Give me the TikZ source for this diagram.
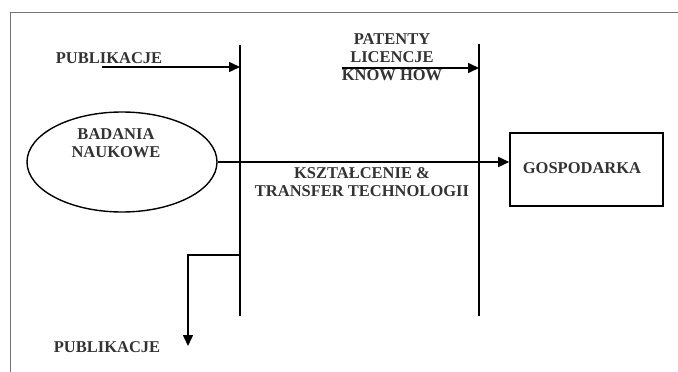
\documentclass[tikz,border=0pt]{standalone}
\usepackage{fontspec}
\setmainfont{Liberation Serif}
\usetikzlibrary{arrows.meta,shapes.geometric}
\begin{document}
\begin{tikzpicture}[x=1pt,y=-1pt,
  lbl/.style={font=\fontsize{16.5}{18}\selectfont\bfseries, text=black!80, inner sep=0pt, align=center},
  bar/.style={line width=2pt},
  conn/.style={line width=1.6pt,-{Triangle[length=11pt,width=10pt]}},
  frame/.style={draw=black!55, line width=1pt}]
\useasboundingbox (0,0) rectangle (678,372);
\draw[frame] (10,372) -- (10,12) -- (678,12);
% vertical bars
\coordinate (v1t) at (240,45); \coordinate (v1b) at (240,316);
\coordinate (v2t) at (479,44); \coordinate (v2b) at (479,316);
\draw[bar] (v1t) -- (v1b);
\draw[bar] (v2t) -- (v2b);
% ellipse and box
\node[draw, ellipse, line width=1.4pt, minimum width=190pt, minimum height=100pt] (bad) at (122,162) {};
\node[lbl] (badtxt) at (116,143) {BADANIA\\NAUKOWE};
\node[draw, line width=1.6pt, minimum width=153pt, minimum height=73pt] (gosp) at (586.5,169.5) {};
\node[lbl] (gosptxt) at (582,168) {GOSPODARKA};
% labels
\node[lbl] (pub1) at (109,58) {PUBLIKACJE};
\node[lbl] (pat) at (392,57) {PATENTY\\LICENCJE\\KNOW HOW};
\node[lbl] (ksz) at (362,182) {KSZTAŁCENIE \&\\TRANSFER TECHNOLOGII};
\node[lbl] (pub2) at (107,347) {PUBLIKACJE};
% connectors
\coordinate (a1s) at (102,67); \coordinate (a1e) at (240,67);
\draw[conn] (a1s) -- (a1e);
\coordinate (a2s) at (342,68); \coordinate (a2e) at (479,68);
\draw[conn] (a2s) -- (a2e);
\draw[conn] (bad.east) -- (bad.east -| gosp.west);
\coordinate (b1) at (240,255); \coordinate (b2) at (188,255); \coordinate (b3) at (188,346);
\draw[conn] (b1) -- (b2) -- (b3);
\end{tikzpicture}
\end{document}
